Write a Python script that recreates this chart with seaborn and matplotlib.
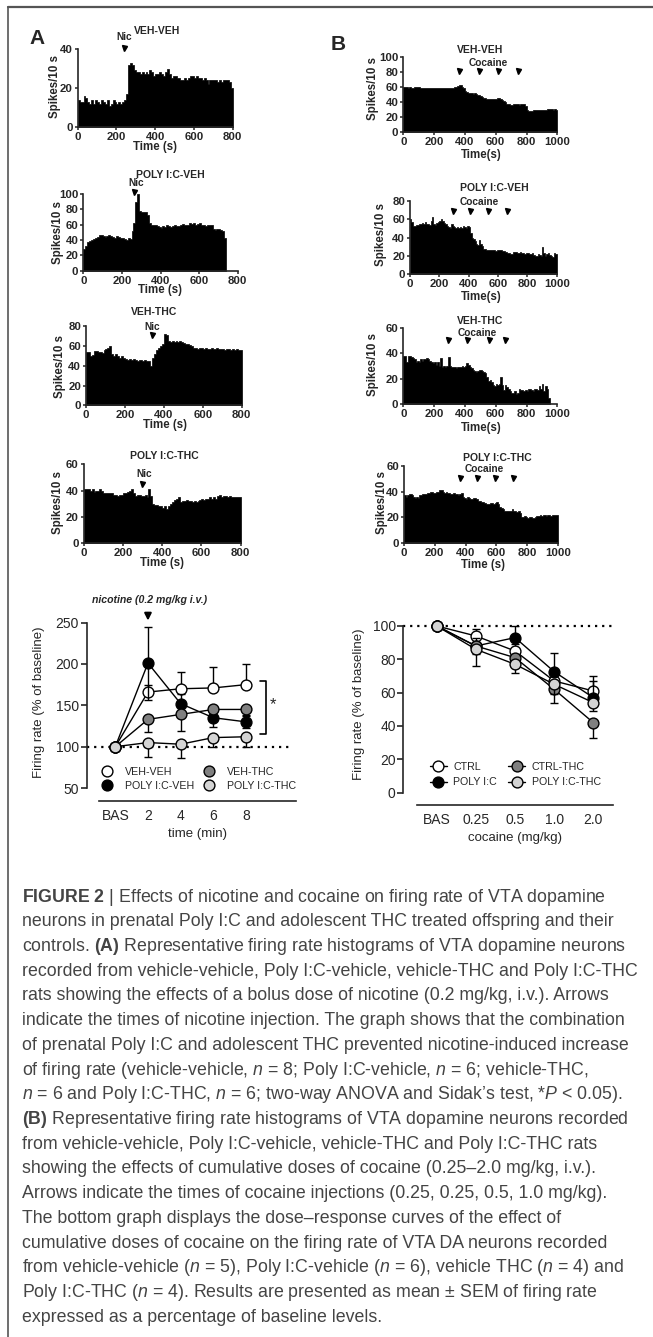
import numpy as np
import pandas as pd
import matplotlib
matplotlib.use("Agg")
import matplotlib.pyplot as plt
from matplotlib.lines import Line2D
import seaborn as sns

# ------------------------------------------------------------------ data
BIN = 10  # s per histogram bin

# Panel A : nicotine histograms (spikes / 10 s)
a_veh_veh = [14, 13, 13, 16, 15, 13, 12, 14, 12, 14, 13, 12, 14, 13, 12, 14, 11, 12, 14, 13,
             12, 13, 12, 13, 14, 17, 32, 33, 32, 29, 28, 28, 27, 28, 27, 28, 27, 29, 28, 26,
             27, 27, 28, 27, 26, 28, 30, 27, 25, 26, 26, 25, 25, 24, 24, 25, 24, 25, 26, 26,
             25, 26, 25, 25, 24, 25, 24, 22, 24, 24, 24, 24, 23, 24, 23, 24, 24, 24, 23, 20]
a_poly_veh = [28, 32, 38, 39, 40, 41, 42, 44, 47, 46, 45, 44, 45, 46, 45, 44, 43, 45, 44, 43,
              42, 41, 40, 42, 41, 52, 62, 90, 100, 78, 77, 77, 76, 72, 62, 60, 59, 60, 58, 57,
              56, 58, 57, 59, 58, 57, 58, 59, 58, 58, 60, 61, 60, 59, 60, 62, 61, 62, 60, 61,
              62, 60, 60, 58, 60, 59, 60, 55, 53, 54, 55, 53, 52, 42]
a_veh_thc = [54, 54, 50, 51, 55, 55, 54, 54, 53, 56, 57, 58, 60, 52, 50, 52, 50, 48, 50, 48,
             47, 46, 47, 46, 47, 46, 45, 46, 46, 45, 46, 45, 45, 40, 48, 52, 56, 58, 60, 62,
             72, 71, 65, 64, 65, 64, 65, 64, 65, 64, 63, 62, 62, 61, 60, 58, 58, 57, 58, 58,
             57, 58, 57, 57, 58, 57, 57, 58, 57, 57, 57, 56, 57, 57, 56, 57, 56, 57, 56, 56]
a_poly_thc = [41, 41, 41, 40, 41, 39, 40, 40, 41, 40, 38, 38, 38, 38, 38, 37, 37, 36, 37, 37,
              38, 38, 39, 40, 41, 38, 36, 37, 37, 36, 36, 37, 35, 41, 36, 30, 29, 29, 28, 28,
              27, 28, 26, 28, 30, 31, 33, 34, 35, 31, 32, 32, 33, 32, 32, 31, 32, 31, 32, 33,
              34, 33, 34, 34, 35, 34, 35, 34, 36, 37, 35, 36, 36, 35, 36, 35, 35, 35, 35, 35]
a_nic_time = [240, 264, 339, 299]

# Panel B : cocaine histograms (spikes / 10 s)
b_veh_veh = [60, 60, 60, 59, 60, 59, 59, 60, 60, 60, 60, 59, 59, 58, 58, 58, 59, 59, 58, 58,
             58, 58, 59, 59, 59, 59, 58, 58, 58, 58, 59, 59, 59, 60, 60, 61, 62, 63, 60, 58,
             55, 53, 52, 52, 52, 51, 52, 51, 50, 49, 48, 47, 46, 45, 44, 44, 44, 44, 44, 44,
             44, 45, 45, 44, 43, 42, 40, 38, 37, 36, 36, 37, 37, 38, 37, 36, 38, 38, 37, 35,
             29, 28, 28, 28, 29, 29, 29, 29, 29, 30, 30, 30, 30, 31, 31, 31, 31, 30, 31, 30]
b_poly_veh = [60, 57, 53, 53, 54, 54, 55, 55, 56, 55, 57, 55, 55, 54, 58, 62, 55, 54, 56, 57,
              58, 60, 58, 56, 55, 53, 52, 51, 55, 53, 52, 51, 52, 51, 52, 51, 53, 52, 51, 53,
              52, 45, 40, 38, 36, 33, 32, 37, 33, 31, 28, 28, 27, 26, 27, 26, 26, 26, 25, 26,
              27, 26, 26, 25, 25, 24, 23, 23, 22, 22, 24, 24, 24, 23, 23, 24, 23, 23, 22, 23,
              23, 22, 22, 23, 21, 20, 20, 22, 21, 20, 30, 23, 20, 22, 23, 21, 20, 19, 23, 22]
b_veh_thc = [38, 38, 33, 38, 38, 37, 36, 35, 33, 34, 33, 35, 34, 35, 35, 36, 35, 34, 33, 32,
             33, 31, 33, 30, 36, 29, 30, 29, 30, 37, 30, 29, 29, 29, 28, 29, 29, 29, 30, 29,
             30, 32, 31, 29, 28, 27, 26, 25, 26, 27, 27, 26, 25, 24, 21, 18, 19, 17, 15, 14,
             16, 15, 16, 21, 15, 11, 15, 13, 12, 10, 9, 9, 10, 8, 9, 12, 11, 11, 10, 11,
             10, 12, 12, 11, 10, 12, 12, 11, 14, 12, 16, 10, 14, 12, 5]
b_poly_thc = [37, 36, 37, 38, 38, 37, 36, 35, 36, 35, 37, 37, 38, 38, 38, 39, 39, 40, 40, 39,
              39, 40, 40, 41, 41, 40, 39, 40, 39, 39, 38, 38, 39, 38, 38, 37, 38, 39, 36, 35,
              34, 36, 35, 34, 34, 35, 35, 34, 33, 33, 32, 32, 31, 30, 30, 30, 31, 31, 30, 31,
              32, 30, 28, 27, 26, 25, 25, 25, 25, 25, 26, 25, 25, 24, 25, 23, 20, 20, 21, 20,
              19, 20, 20, 19, 19, 20, 21, 21, 22, 21, 22, 22, 21, 22, 22, 21, 22, 22, 22, 22]
b_coc_times = [[364, 494, 613, 745], [291, 411, 532, 661], [292, 413, 554, 662], [364, 472, 589, 710]]

# Panel A bottom : nicotine time course (% of baseline)
a_time_labels = ["BAS", "2", "4", "6", "8"]
a_groups = ["VEH-VEH", "POLY I:C-VEH", "VEH-THC", "POLY I:C-THC"]
a_rate = {"VEH-VEH": [100, 166, 170, 171, 175],
          "POLY I:C-VEH": [100, 201, 152, 135, 130],
          "VEH-THC": [100, 133, 139, 145, 145],
          "POLY I:C-THC": [100, 105, 103, 111, 112]}
a_err_up = {"VEH-VEH": [0, 9, 20, 25, 25],
            "POLY I:C-VEH": [0, 44, 12, 11, 8],
            "VEH-THC": [0, 0, 0, 0, 0],
            "POLY I:C-THC": [0, 0, 0, 0, 0]}
a_err_dn = {"VEH-VEH": [0, 0, 0, 0, 0],
            "POLY I:C-VEH": [0, 44, 12, 11, 8],
            "VEH-THC": [0, 15, 20, 10, 8],
            "POLY I:C-THC": [0, 17, 17, 11, 12]}

# Panel B bottom : cocaine dose response (% of baseline)
b_dose_labels = ["BAS", "0.25", "0.5", "1.0", "2.0"]
b_groups = ["CTRL", "POLY I:C", "CTRL-THC", "POLY I:C-THC"]
b_rate = {"CTRL": [100, 94, 85, 67, 61],
          "POLY I:C": [100, 88, 93, 72.6, 57],
          "CTRL-THC": [100, 88, 81, 62, 42],
          "POLY I:C-THC": [100, 86, 77, 65, 54]}
b_err_up = {"CTRL": [0, 4, 4, 5, 6],
            "POLY I:C": [0, 5, 7, 11, 13],
            "CTRL-THC": [0, 0, 0, 0, 0],
            "POLY I:C-THC": [0, 0, 0, 0, 0]}
b_err_dn = {"CTRL": [0, 0, 0, 0, 0],
            "POLY I:C": [0, 0, 0, 0, 0],
            "CTRL-THC": [0, 5, 4, 8, 9],
            "POLY I:C-THC": [0, 10, 5, 6, 5]}

caption_lines = [
    r"$\mathbf{FIGURE\ 2}$ | Effects of nicotine and cocaine on firing rate of VTA dopamine",
    "neurons in prenatal Poly I:C and adolescent THC treated offspring and their",
    r"controls. $\mathbf{(A)}$ Representative firing rate histograms of VTA dopamine neurons",
    "recorded from vehicle-vehicle, Poly I:C-vehicle, vehicle-THC and Poly I:C-THC",
    "rats showing the effects of a bolus dose of nicotine (0.2 mg/kg, i.v.). Arrows",
    "indicate the times of nicotine injection. The graph shows that the combination",
    "of prenatal Poly I:C and adolescent THC prevented nicotine-induced increase",
    r"of firing rate (vehicle-vehicle, $\mathit{n}$ = 8; Poly I:C-vehicle, $\mathit{n}$ = 6; vehicle-THC,",
    r"$\mathit{n}$ = 6 and Poly I:C-THC, $\mathit{n}$ = 6; two-way ANOVA and Sidak’s test, *$\mathit{P}$ < 0.05).",
    r"$\mathbf{(B)}$ Representative firing rate histograms of VTA dopamine neurons recorded",
    "from vehicle-vehicle, Poly I:C-vehicle, vehicle-THC and Poly I:C-THC rats",
    "showing the effects of cumulative doses of cocaine (0.25–2.0 mg/kg, i.v.).",
    "Arrows indicate the times of cocaine injections (0.25, 0.25, 0.5, 1.0 mg/kg).",
    "The bottom graph displays the dose–response curves of the effect of",
    "cumulative doses of cocaine on the firing rate of VTA DA neurons recorded",
    r"from vehicle-vehicle ($\mathit{n}$ = 5), Poly I:C-vehicle ($\mathit{n}$ = 6), vehicle THC ($\mathit{n}$ = 4) and",
    r"Poly I:C-THC ($\mathit{n}$ = 4). Results are presented as mean ± SEM of firing rate",
    "expressed as a percentage of baseline levels.",
]

# ------------------------------------------------------------------ style
sns.set_style("ticks")
plt.rcParams["font.family"] = ["Liberation Sans", "DejaVu Sans"]
plt.rcParams["mathtext.fontset"] = "custom"
plt.rcParams["mathtext.rm"] = "Liberation Sans"
plt.rcParams["mathtext.it"] = "Liberation Sans:italic"
plt.rcParams["mathtext.bf"] = "Liberation Sans:bold"
plt.rcParams["axes.linewidth"] = 1.2

W, H = 653, 1337
fig = plt.figure(figsize=(W / 100, H / 100), dpi=100)


def add_ax(x0, x1, ytop, ybot):
    return fig.add_axes([x0 / W, 1 - ybot / H, (x1 - x0) / W, (ybot - ytop) / H])


def ftext(x, y, s, **kw):
    kw.setdefault("ha", "center")
    kw.setdefault("va", "center")
    return fig.text(x / W, 1 - y / H, s, **kw)


def hist_panel(box, counts, xmax, ymax, yticks, inj, mark_y, title, title_xy,
               inj_label, inj_xy, xlabel, xlabel_xy, ylabel_xy):
    ax = add_ax(*box)
    n = len(counts)
    df = pd.DataFrame({"t": np.arange(n) * BIN + BIN / 2, "spikes": counts})
    sns.histplot(data=df, x="t", weights="spikes", binwidth=BIN, binrange=(0, n * BIN),
                 element="step", fill=True, color="black", alpha=1, linewidth=0.5, ax=ax)
    ax.set_xlim(0, xmax)
    ax.set_ylim(0, ymax)
    ax.set_xticks(np.arange(0, xmax + 1, 200))
    ax.set_yticks(yticks)
    ax.set_xlabel("")
    ax.set_ylabel("")
    sns.despine(ax=ax)
    ax.tick_params(direction="out", length=2.5, width=1.1, labelsize=8.2, pad=1)
    plt.setp(ax.get_xticklabels() + ax.get_yticklabels(), fontweight="bold")
    ax.plot(inj, [mark_y] * len(inj), ls="", marker="v", ms=3.6, color="black",
            clip_on=False)
    ftext(*title_xy, title, fontsize=7.5, fontweight="bold")
    ftext(*inj_xy, inj_label, fontsize=7.3, fontweight="bold")
    ftext(*xlabel_xy, xlabel, fontsize=8.3, fontweight="bold")
    ftext(*ylabel_xy, "Spikes/10 s", fontsize=8.3, fontweight="bold", rotation=90)
    return ax


# ---- panel A histograms
hist_panel((77.7, 232.7, 49, 127), a_veh_veh, 800, 40, [0, 20, 40], [a_nic_time[0]], 40.6,
           "VEH-VEH", (157, 31.5), "Nic", (124, 37.5), "Time (s)", (155, 147), (55, 87))
hist_panel((83.3, 237.7, 194, 270.7), a_poly_veh, 800, 100, [0, 20, 40, 60, 80, 100],
           [a_nic_time[1]], 102.6, "POLY I:C-VEH", (170, 175), "Nic", (136, 183.5),
           "Time (s)", (160, 290), (58, 232))
hist_panel((86, 241.7, 326, 405.5), a_veh_thc, 800, 80, [0, 20, 40, 60, 80], [a_nic_time[2]],
           71, "VEH-THC", (154, 312), "Nic", (152, 327), "Time (s)", (165, 425), (60, 366))
hist_panel((83.7, 240.7, 464.3, 543.3), a_poly_thc, 800, 60, [0, 20, 40, 60], [a_nic_time[3]],
           45, "POLY I:C-THC", (164, 456), "Nic", (144, 474), "Time (s)", (162, 563),
           (57.5, 503))

# ---- panel B histograms
hist_panel((403.3, 557.3, 56.7, 132.3), b_veh_veh, 1000, 100, [0, 20, 40, 60, 80, 100],
           b_coc_times[0], 81.5, "VEH-VEH", (480, 50), "Cocaine", (488.5, 63.3),
           "Time(s)", (481, 155), (373, 89))
hist_panel((410, 556.7, 201, 274.3), b_poly_veh, 1000, 80, [0, 20, 40, 60, 80],
           b_coc_times[1], 69.4, "POLY I:C-VEH", (494, 188.3), "Cocaine", (479, 202.3),
           "Time(s)", (481.7, 297.3), (381, 235))
hist_panel((403.3, 557.3, 327.7, 404), b_veh_thc, 1000, 60, [0, 20, 40, 60],
           b_coc_times[2], 50.3, "VEH-THC", (480, 320.7), "Cocaine", (477.5, 333.3),
           "Time(s)", (481, 427.7), (373, 364))
hist_panel((404, 558, 466, 542.7), b_poly_thc, 1000, 60, [0, 20, 40, 60],
           b_coc_times[3], 50.4, "POLY I:C-THC", (497.7, 457.7), "Cocaine", (484.7, 469.3),
           "Time (s)", (482.7, 565), (381.7, 502))

ftext(37, 39, "A", fontsize=15, fontweight="bold")
ftext(338, 45, "B", fontsize=15, fontweight="bold")

# ---- bottom line plots
face = {"VEH-VEH": "white", "POLY I:C-VEH": "black", "VEH-THC": "#808080",
        "POLY I:C-THC": "#d4d4d4", "CTRL": "white", "POLY I:C": "black",
        "CTRL-THC": "#808080"}


def line_panel(ax, groups, rate, up, dn):
    x = np.arange(len(rate[groups[0]]))
    for i, g in enumerate(groups):
        ax.errorbar(x, rate[g], yerr=[dn[g], up[g]], fmt="none", ecolor="black",
                    elinewidth=1.0, capsize=3, capthick=1.0, zorder=3 + 2 * i)
        sns.lineplot(x=x, y=rate[g], sort=False, color="black", lw=1.0, marker="o",
                     ms=7.8, markerfacecolor=face[g], markeredgecolor="black",
                     markeredgewidth=1.0, ax=ax, zorder=4 + 2 * i, errorbar=None)
    ax.set_xlabel("")
    ax.set_ylabel("")


# A
axA = add_ax(86.7, 296, 618.4, 800.5)
line_panel(axA, a_groups, a_rate, a_err_up, a_err_dn)
axA.set_xlim(-0.875, 5.53)
axA.set_ylim(35, 255)
axA.set_yticks([50, 100, 150, 200, 250])
axA.set_xticks(range(len(a_time_labels)))
axA.set_xticklabels(a_time_labels)
sns.despine(ax=axA)
axA.spines["left"].set_bounds(50, 250)
axA.spines["bottom"].set_bounds(-0.5, 5.53)
axA.tick_params(axis="y", direction="out", length=4, width=1.2, labelsize=10, pad=1.5)
axA.tick_params(axis="x", length=0, labelsize=10, pad=6)
axA.plot([-0.875, 5.35], [100, 100], color="black", lw=1.6, ls=(0, (1, 2.2)), zorder=1)
axA.annotate("", xy=(1, 249), xytext=(1, 265), xycoords="data",
             arrowprops=dict(arrowstyle="-|>", color="black", lw=1.5, mutation_scale=10))
ftext(150, 600, "nicotine (0.2 mg/kg i.v.)", fontsize=7.6, fontweight="bold", style="italic")
axA.plot([4.43, 4.60, 4.60, 4.43], [179.7, 179.7, 115.3, 115.3], color="black", lw=1.2,
         clip_on=False)
axA.text(4.83, 151, "*", fontsize=12, ha="center", va="center")
ftext(39.3, 702, "Firing rate (% of baseline)", fontsize=9.5, rotation=90)
ftext(198, 834.3, "time (min)", fontsize=9.5)
hA = [Line2D([], [], ls="", marker="o", ms=7.8, markerfacecolor=face[g],
             markeredgecolor="black") for g in a_groups]
axA.legend(hA, a_groups, ncol=2, loc="upper left", bbox_to_anchor=(101.7 / W, 1 - 767 / H),
           bbox_transform=fig.transFigure, frameon=False, borderpad=0, borderaxespad=0,
           handlelength=1.0, handletextpad=1.15, columnspacing=0.9, labelspacing=0.35,
           fontsize=7.7)

# B
axB = add_ax(403.3, 613.3, 619.3, 805)
line_panel(axB, b_groups, b_rate, b_err_up, b_err_dn)
axB.set_xlim(-0.853, 4.51)
axB.set_ylim(-7.4, 104)
axB.set_yticks([0, 20, 40, 60, 80, 100])
axB.set_xticks(range(len(b_dose_labels)))
axB.set_xticklabels(b_dose_labels)
sns.despine(ax=axB)
axB.spines["left"].set_bounds(0, 100)
axB.spines["bottom"].set_bounds(-0.51, 4.51)
axB.tick_params(axis="y", direction="out", length=4, width=1.2, labelsize=10, pad=1.5)
axB.tick_params(axis="x", length=0, labelsize=10, pad=6)
axB.plot([-0.853, 4.51], [100, 100], color="black", lw=1.6, ls=(0, (1, 2.2)), zorder=1)
ftext(359.3, 704, "Firing rate (% of baseline)", fontsize=9.5, rotation=90)
ftext(515, 838.3, "cocaine (mg/kg)", fontsize=9.5)
hB = [Line2D([], [], color="black", lw=1.0, marker="o", ms=7.8, markerfacecolor=face[g],
             markeredgecolor="black") for g in b_groups]
axB.legend(hB, b_groups, ncol=2, loc="upper left", bbox_to_anchor=(429.8 / W, 1 - 762 / H),
           bbox_transform=fig.transFigure, frameon=False, borderpad=0, borderaxespad=0,
           handlelength=1.6, handletextpad=0.6, columnspacing=1.05, labelspacing=0.5,
           fontsize=7.7)

# ---- frame lines
fig.add_artist(Line2D([8 / W, 1], [1 - 7 / H, 1 - 7 / H], transform=fig.transFigure,
                      color="#555555", lw=1.6))
fig.add_artist(Line2D([8 / W, 8 / W], [0, 1 - 7 / H], transform=fig.transFigure,
                      color="#555555", lw=1.2))

# ---- caption
for i, line in enumerate(caption_lines):
    fig.text(22 / W, 1 - (897 + 24.72 * i) / H, line, fontsize=12.8, color="#444444",
             ha="left", va="center")

fig.savefig("out.png", dpi=100)
